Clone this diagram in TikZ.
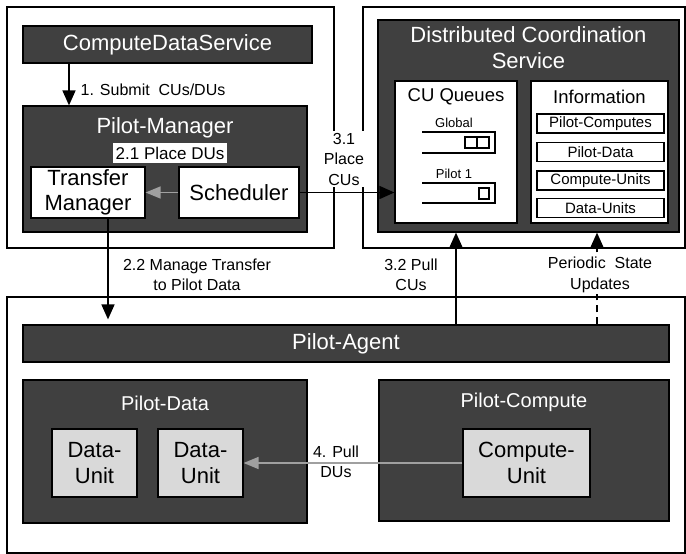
\documentclass[tikz,border=0pt]{standalone}
\usepackage{fontspec}
\setmainfont{Liberation Sans}
\usetikzlibrary{arrows.meta}
\definecolor{darkbox}{HTML}{404040}
\definecolor{lightbox}{HTML}{D9D9D9}
\definecolor{arrgray}{HTML}{A0A0A0}
\begin{document}
\begin{tikzpicture}[x=1pt,y=-1pt,
  outer/.style={draw=black, line width=1.6pt, inner sep=0pt},
  dark/.style={draw=black, fill=darkbox, line width=1.2pt, inner sep=0pt},
  whitebox/.style={draw=black, fill=white, line width=1.2pt, inner sep=0pt},
  unitbox/.style={draw=black, fill=lightbox, line width=1.2pt, inner sep=0pt},
  itembox/.style={draw=black, fill=white, line width=1.2pt, inner sep=0pt, minimum width=127pt, minimum height=19pt, font=\fontsize{15}{18}\selectfont},
  ttl/.style={text=white, inner sep=0pt, align=center, font=\fontsize{22}{25.5}\selectfont},
  sub/.style={text=white, inner sep=0pt, align=center, font=\fontsize{20}{24}\selectfont},
  big/.style={text=black, inner sep=0pt, align=center, font=\fontsize{22}{25.5}\selectfont},
  lab/.style={text=black, inner sep=1.5pt, align=center, font=\fontsize{16}{20.5}\selectfont},
  small/.style={text=black, inner sep=0pt, font=\fontsize{13}{15}\selectfont},
  qtitle/.style={text=black, inner sep=0pt, font=\fontsize{18.5}{22}\selectfont},
  arr/.style={line width=1.6pt, draw=black, -{Triangle[length=15pt,width=13pt]}},
  garr/.style={line width=1.6pt, draw=arrgray, -{Triangle[length=15pt,width=12pt]}},
  qline/.style={line width=1.4pt, draw=black}
]
\useasboundingbox (0,0) rectangle (686,554);
% outer containers
\node[outer, minimum width=327pt, minimum height=241pt] (outer1) at (170.5,127.5) {};
\node[outer, minimum width=322pt, minimum height=241pt] (outer2) at (524,127.5) {};
\node[outer, minimum width=678pt, minimum height=256pt] (outer3) at (346,425) {};

% 3.1 label (covers container borders)
\node[lab, fill=white, inner sep=2pt] (lab31) at (344,159) {3.1\\Place\\CUs};

% top-left: compute data service and pilot manager
\node[dark, minimum width=289pt, minimum height=37pt] (cds) at (167.5,44.5) {};
\node[ttl] (cdst) at (cds.center) {ComputeDataService};
\node[dark, minimum width=284pt, minimum height=126pt] (pm) at (165,169) {};
\node[ttl] (pmt) at (165,128) {Pilot-Manager};
\node[fill=white, inner sep=0pt, minimum width=114pt, minimum height=20pt, font=\fontsize{17}{20}\selectfont] (place21) at (170,153) {2.1 Place DUs};
\node[whitebox, minimum width=114pt, minimum height=51pt] (tm) at (88,192.5) {};
\node[big] (tmt) at (tm.center) {Transfer\\Manager};
\node[whitebox, minimum width=120pt, minimum height=51pt] (sched) at (239,192.5) {};
\node[big] (schedt) at (sched.center) {Scheduler};

% top-right: distributed coordination service
\node[dark, minimum width=301pt, minimum height=212pt] (dcs) at (528.5,126) {};
\node[ttl] (dcst) at (528.5,47.5) {Distributed Coordination\\Service};
\node[whitebox, minimum width=122pt, minimum height=142pt] (cuq) at (456,152) {};
\node[qtitle] (cuqt) at (456,97) {CU Queues};
\node[whitebox, minimum width=137pt, minimum height=142pt] (info) at (599.5,152) {};
\node[qtitle] (infot) at (599.5,97) {Information};
\node[itembox] (i1) at (600.5,123.5) {Pilot-Computes};
\node[itembox] (i2) at (600.5,152) {Pilot-Data};
\node[itembox] (i3) at (600.5,180.5) {Compute-Units};
\node[itembox] (i4) at (600.5,208) {Data-Units};
% queues
\node[small] (qglob) at (454,123) {Global};
\draw[qline] (422,132) -- (495,132) -- (495,153) -- (422,153);
\draw[qline] (465,137) rectangle (477,148);
\draw[qline] (477,137) rectangle (489,148);
\node[small] (qpil) at (454,174) {Pilot 1};
\draw[qline] (422,183) -- (495,183) -- (495,203) -- (422,203);
\draw[qline] (479,188) rectangle (489,199);

% bottom: pilot agent
\node[dark, minimum width=646pt, minimum height=37pt] (agent) at (346,343.5) {};
\node[ttl] (agentt) at (agent.center) {Pilot-Agent};
\node[dark, minimum width=284pt, minimum height=143pt] (pd) at (165,451.5) {};
\node[sub] (pdt) at (165,403) {Pilot-Data};
\node[dark, minimum width=290pt, minimum height=141pt] (pc) at (524,450.5) {};
\node[sub] (pct) at (524,402) {Pilot-Compute};
\node[unitbox, minimum width=85pt, minimum height=68pt] (du1) at (94.5,463) {};
\node[big] (du1t) at (du1.center) {Data-\\Unit};
\node[unitbox, minimum width=85pt, minimum height=68pt] (du2) at (200.5,463) {};
\node[big] (du2t) at (du2.center) {Data-\\Unit};
\node[unitbox, minimum width=127pt, minimum height=68pt] (cu) at (526.5,463) {};
\node[big] (cut) at (cu.center) {Compute-\\Unit};

% connectors
\coordinate (xsub) at (69,0);
\coordinate (xtm) at (108,0);
\coordinate (xpull) at (456,0);
\coordinate (xper) at (597,0);
\draw[arr] (cds.south -| xsub) -- (pm.north -| xsub);
\node[lab, anchor=west] (lab1) at (79,90) {1. Submit\ \ CUs/DUs};
\draw[garr] (sched.west) -- (tm.east);
\draw[arr] (sched.east) -- (sched.east -| cuq.west);
\draw[arr, shorten >=5pt] (tm.south -| xtm) -- (agent.north -| xtm);
\node[lab] (lab22) at (197,275) {2.2 Manage Transfer\\to Pilot Data};
\draw[arr] (agent.north -| xpull) -- (dcs.south -| xpull);
\node[lab] (lab32) at (411,275) {3.2 Pull\\CUs};
\draw[arr, dash pattern=on 7pt off 5pt] (agent.north -| xper) -- (dcs.south -| xper);
\node[lab, fill=white] (labpsu) at (600,275) {Periodic\ \ State\\Updates};
\draw[garr] (cu.west) -- (du2.east);
\node[lab] (lab4) at (336,462) {4. Pull\\DUs};
\end{tikzpicture}
\end{document}
